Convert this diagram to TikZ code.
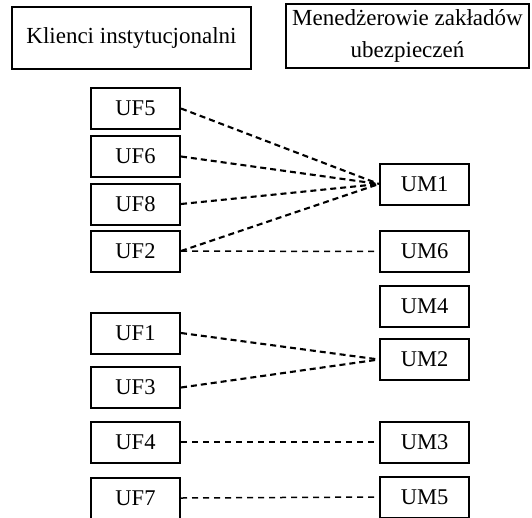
\documentclass[tikz,border=0pt]{standalone}
\usepackage{fontspec}
\setmainfont{Liberation Serif}
\begin{document}
\begin{tikzpicture}[x=1pt,y=-1pt,
  box/.style={draw,line width=2pt,minimum width=89pt,minimum height=41pt,inner sep=0pt,font=\fontsize{22.5}{32}\selectfont},
  head/.style={draw,line width=2pt,inner sep=0pt,align=center,font=\fontsize{23}{32}\selectfont},
  conv/.style={line width=2.1pt,dash pattern=on 6pt off 4pt},
  flat/.style={line width=1.5pt,dash pattern=on 6pt off 5pt}]
\useasboundingbox (0,0) rectangle (532,517);
\node[head,minimum width=239pt,minimum height=62pt] (hl) at (131.5,38) {Klienci instytucjonalni};
\node[head,minimum width=243pt,minimum height=64pt] (hr) at (407.5,36) {Menedżerowie zakładów\\ubezpieczeń\hspace{30pt}};
\node[box] (uf5) at (135.5,108.5) {UF5};
\node[box] (uf6) at (135.5,156.5) {UF6};
\node[box] (uf8) at (135.5,204) {UF8};
\node[box] (uf2) at (135.5,251) {UF2};
\node[box] (uf1) at (135.5,333) {UF1};
\node[box] (uf3) at (135.5,387.5) {UF3};
\node[box] (uf4) at (135.5,442) {UF4};
\node[box] (uf7) at (135.5,498) {UF7};
\node[box] (um1) at (424.5,184) {UM1};
\node[box] (um6) at (424.5,251.5) {UM6};
\node[box] (um4) at (424.5,306) {UM4};
\node[box] (um2) at (424.5,359.5) {UM2};
\node[box] (um3) at (424.5,442) {UM3};
\node[box] (um5) at (424.5,497) {UM5};
\draw[conv] (uf5.east) -- (um1.west);
\draw[conv] (uf6.east) -- (um1.west);
\draw[conv] (uf8.east) -- (um1.west);
\draw[conv] (uf2.east) -- (um1.west);
\draw[flat] (uf2.east) -- (um6.west);
\draw[conv] (uf1.east) -- (um2.west);
\draw[conv] (uf3.east) -- (um2.west);
\draw[flat] (uf4.east) -- (um3.west);
\draw[flat] (uf7.east) -- (um5.west);
\end{tikzpicture}
\end{document}
